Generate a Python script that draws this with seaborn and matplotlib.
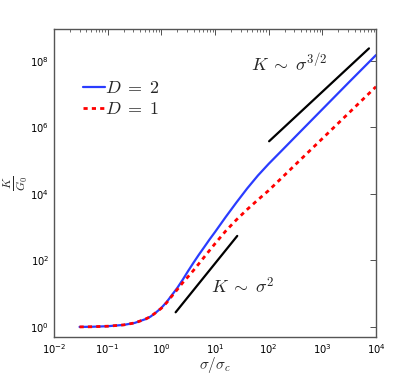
import numpy as np
import pandas as pd
import matplotlib
matplotlib.use("Agg")
import matplotlib.pyplot as plt
import seaborn as sns
from matplotlib.ticker import FixedLocator, NullLocator, NullFormatter

# values (sigma/sigma_c, K/G0)
sigma = [0.030, 0.050, 0.10, 0.20, 0.32, 0.50, 0.63, 0.79, 1.0, 1.26, 1.58,
         2.0, 2.51, 3.16, 3.98, 5.01, 6.31, 7.94, 10, 15.8, 25.1, 39.8, 63.1,
         100, 178, 316, 1000, 3162, 10000]
K_d2 = [1.0, 1.01, 1.05, 1.15, 1.32, 1.70, 2.04, 2.69, 3.72, 5.62, 9.12,
        15.1, 26.3, 47.9, 85.1, 148, 251, 427, 708, 2000, 5500, 14500, 35500,
        79400, 204000, 525000, 3.47e6, 2.29e7, 1.48e8]
K_d1 = [1.0, 1.01, 1.05, 1.15, 1.32, 1.70, 2.04, 2.69, 3.63, 5.37, 8.51,
        13.5, 21.4, 32.4, 50.1, 79.4, 126, 200, 316, 759, 1660, 3390, 6610,
        12600, 30900, 75900, 457000, 2.75e6, 1.66e7]

# guide slopes
guide2_x = [1.85, 26]
guide2_y = [2.75, 543]
guide32_x = [102, 7400]
guide32_y = [3.8e5, 2.35e8]

x_ticks = [1e-2, 1e-1, 1e0, 1e1, 1e2, 1e3, 1e4]
y_ticks = [1, 1e2, 1e4, 1e6, 1e8]

sns.set_style("white")
plt.rcParams['font.family'] = ['DejaVu Sans']
plt.rcParams['mathtext.fontset'] = 'dejavusans'

lab2 = r'$D\;=\;2$'
lab1 = r'$D\;=\;1$'
df = pd.DataFrame({
    'sigma': sigma * 2,
    'K': K_d2 + K_d1,
    'D': [lab2] * len(sigma) + [lab1] * len(sigma),
})

fig = plt.figure(figsize=(4.15, 3.79), dpi=100)
ax = fig.add_axes([0.130, 0.111, 0.776, 0.8125])

sns.lineplot(data=df[df.D == lab2], x='sigma', y='K', color='#2a3cff',
             lw=1.6, ax=ax, label=lab2)
sns.lineplot(data=df[df.D == lab1], x='sigma', y='K', color='#ff0000',
             lw=2.0, ax=ax, label=lab1, linestyle=(0, (1.5, 1.5)))
ax.plot(guide2_x, guide2_y, color='black', lw=1.6)
ax.plot(guide32_x, guide32_y, color='black', lw=1.6)

ax.set_xscale('log')
ax.set_yscale('log')
ax.set_xlim(1e-2, 1e4)
ax.set_ylim(0.5, 9e8)
ax.yaxis.set_major_locator(FixedLocator(y_ticks))
ax.yaxis.set_minor_locator(NullLocator())
ax.xaxis.set_major_locator(FixedLocator(x_ticks))
minors = [m * t for t in x_ticks[:-1] for m in range(2, 10)]
ax.xaxis.set_minor_locator(FixedLocator(minors))
ax.xaxis.set_minor_formatter(NullFormatter())

ax.tick_params(which='both', direction='in', top=True, right=True,
               labelsize=7.2, colors='#333333', labelcolor='black')
ax.tick_params(which='major', length=4, width=0.6)
ax.tick_params(which='minor', length=2, width=0.5)
for s in ax.spines.values():
    s.set_color('#555555')
    s.set_linewidth(1.0)

ax.set_xlabel(r'$\sigma/\sigma_c$', fontsize=11, math_fontfamily='cm')
ax.set_ylabel(r'$\frac{K}{G_0}$', fontsize=12, math_fontfamily='cm')
ax.xaxis.set_label_coords(0.5, -0.06)
ax.yaxis.set_label_coords(-0.075, 0.5)

ax.text(46, 4.9e7, r'$K\;\sim\;\sigma^{3/2}$', fontsize=13, math_fontfamily='cm',
        va='baseline', ha='left')
ax.text(8.4, 10.4, r'$K\;\sim\;\sigma^2$', fontsize=13, math_fontfamily='cm',
        va='baseline', ha='left')

leg = ax.legend(loc='upper left', bbox_to_anchor=(0.069, 0.86), frameon=False,
                fontsize=13, handlelength=1.2, handletextpad=0.0,
                labelspacing=0.15, borderaxespad=0)
for t in leg.get_texts():
    t.set_math_fontfamily('cm')

fig.savefig('out.png', dpi=100)
